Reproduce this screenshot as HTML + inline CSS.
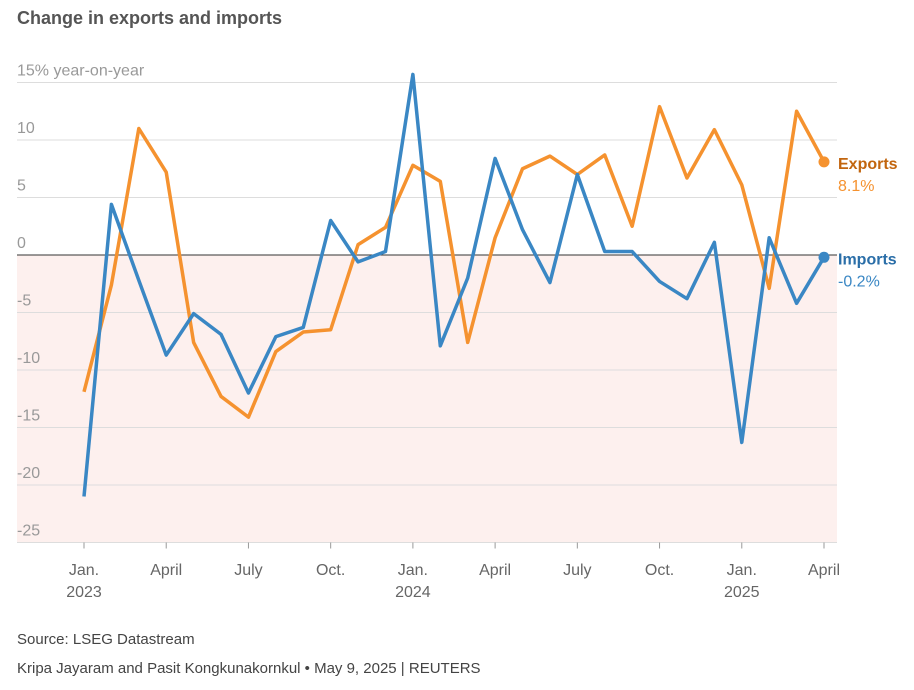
<!DOCTYPE html>
<html><head><meta charset="utf-8"><style>
body{margin:0;background:#fff;font-family:"Liberation Sans",sans-serif;}
svg text{font-family:"Liberation Sans",sans-serif;}
</style></head><body>
<svg id="chart" width="914" height="685" xmlns="http://www.w3.org/2000/svg">
<text x="17" y="24" font-size="18" font-weight="bold" fill="#555">Change in exports and imports</text>
<g id="grid"></g>
<g id="xaxis"></g>
<g id="series"></g>
<text x="17" y="644" font-size="15" fill="#444">Source: LSEG Datastream</text>
<text x="17" y="673" font-size="15" fill="#444">Kripa Jayaram and Pasit Kongkunakornkul • May 9, 2025 | REUTERS</text>
</svg>
<script>
const months = 28;
const yTicks = [15,10,5,0,-5,-10,-15,-20,-25];
const xTickIdx = [0,3,6,9,12,15,18,21,24,27];
const xTickLabels = ["Jan.","April","July","Oct.","Jan.","April","July","Oct.","Jan.","April"];
const xYearLabels = ["2023","","","","2024","","","","2025",""];
const exportsVals = [-11.9,-2.6,11,7.2,-7.6,-12.3,-14.1,-8.4,-6.7,-6.5,0.9,2.4,7.8,6.4,-7.6,1.5,7.5,8.6,7.0,8.7,2.5,12.9,6.7,10.9,6.1,-2.9,12.5,8.1];
const importsVals = [-21,4.4,-2.2,-8.7,-5.1,-6.9,-12,-7.1,-6.3,3.0,-0.6,0.3,15.7,-7.9,-2.0,8.4,2.2,-2.4,7.0,0.3,0.3,-2.3,-3.8,1.1,-16.3,1.5,-4.2,-0.2];
const NS="http://www.w3.org/2000/svg";
const x=i=>84+i*(824-84)/27;
const y=v=>255-v*11.5;
function mk(t,a,p){const e=document.createElementNS(NS,t);for(const k in a)e.setAttribute(k,a[k]);p.appendChild(e);return e;}
const grid=document.getElementById('grid');
const bg=mk('rect',{x:17,y:y(0),width:820,height:y(-25)-y(0),fill:'#fdf0ee'},grid);


yTicks.forEach(v=>{
  if(v!==0){const l=mk('line',{x1:17,x2:837,y1:y(v),y2:y(v),stroke:'#ddd','stroke-width':1},grid);
  
  }
  const t=mk('text',{x:17,y:y(v)-7,'font-size':16,fill:'#999'},grid);
  t.textContent=v===15?'15% year-on-year':String(v);
  
  
});
const xa=document.getElementById('xaxis');
xTickIdx.forEach((m,k)=>{
  const tk=mk('line',{x1:x(m),x2:x(m),y1:y(-25),y2:y(-25)+6,stroke:'#999'},xa);
  
  
  const t=mk('text',{x:x(m),y:575,'font-size':16,fill:'#666','text-anchor':'middle'},xa);
  t.textContent=xTickLabels[k];
  
  
  if(xYearLabels[k]){const t2=mk('text',{x:x(m),y:597,'font-size':16,fill:'#666','text-anchor':'middle'},xa);
  t2.textContent=xYearLabels[k];
  
  }
});
const s=document.getElementById('series');
const zl=mk('line',{x1:17,x2:837,y1:y(0),y2:y(0),stroke:'#333','stroke-width':1},s);


function series(vals,col,name,lab,lc){
  const p=mk('polyline',{points:vals.map((v,i)=>x(i)+','+y(v)).join(' '),fill:'none',stroke:col,'stroke-width':3.5,'stroke-linejoin':'round'},s);
  
  
  const lv=vals[vals.length-1];
  const c=mk('circle',{cx:x(vals.length-1),cy:y(lv),r:5.5,fill:col},s);
  
  
  const t=mk('text',{x:838,y:y(lv)+7,'font-size':16,'font-weight':'bold',fill:lc},s);
  t.textContent=lab;
  
  
  const t2=mk('text',{x:838,y:y(lv)+29,'font-size':16,fill:col},s);
  t2.textContent=(lv>0?'':'')+lv.toFixed(1)+'%';
  
  
}
series(exportsVals,'#f5922f','exports','Exports','#c2650e');
series(importsVals,'#3a87c4','imports','Imports','#2a6ea8');
</script>
</body></html>
